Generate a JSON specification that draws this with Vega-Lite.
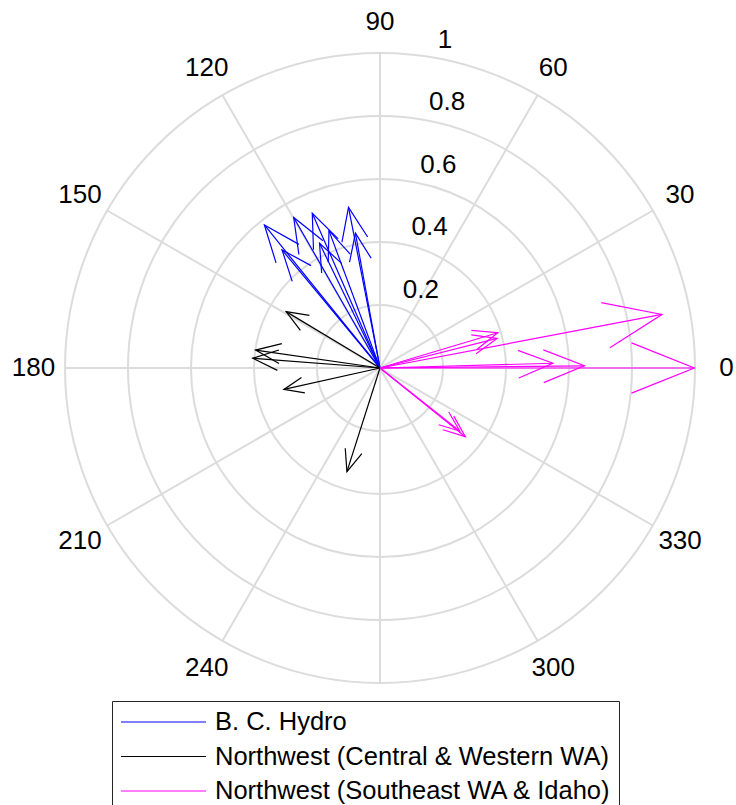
{
  "$schema": "https://vega.github.io/schema/vega-lite/v6.json",
  "width": 712,
  "height": 712,
  "autosize": {"type": "none"},
  "padding": {"left": 24, "top": 12, "right": 0, "bottom": 81},
  "background": "white",
  "config": {"view": {"stroke": null}, "font": "Liberation Sans"},
  "datasets": {
    "rings": [{"r": 0.2}, {"r": 0.4}, {"r": 0.6}, {"r": 0.8}, {"r": 1.0}],
    "spokes": [{"a": 0}, {"a": 30}, {"a": 60}, {"a": 90}, {"a": 120}, {"a": 150}],
    "anglabels": [
      {"a": 0, "lab": "0"}, {"a": 30, "lab": "30"}, {"a": 60, "lab": "60"}, {"a": 90, "lab": "90"},
      {"a": 120, "lab": "120"}, {"a": 150, "lab": "150"}, {"a": 180, "lab": "180"}, {"a": 210, "lab": "210"},
      {"a": 240, "lab": "240"}, {"a": 270, "lab": "270"}, {"a": 300, "lab": "300"}, {"a": 330, "lab": "330"}
    ],
    "rlabels": [
      {"r": 0.2, "lab": "0.2"}, {"r": 0.4, "lab": "0.4"}, {"r": 0.6, "lab": "0.6"}, {"r": 0.8, "lab": "0.8"}, {"r": 1.0, "lab": "1"}
    ],
    "arrows": [
      {"series": "B. C. Hydro", "u": -0.367, "v": 0.454, "mag": 0.584, "dir": 128.9},
      {"series": "B. C. Hydro", "u": -0.274, "v": 0.478, "mag": 0.551, "dir": 119.8},
      {"series": "B. C. Hydro", "u": -0.215, "v": 0.491, "mag": 0.536, "dir": 113.7},
      {"series": "B. C. Hydro", "u": -0.162, "v": 0.436, "mag": 0.465, "dir": 110.4},
      {"series": "B. C. Hydro", "u": -0.192, "v": 0.396, "mag": 0.440, "dir": 115.9},
      {"series": "B. C. Hydro", "u": -0.100, "v": 0.510, "mag": 0.520, "dir": 101.1},
      {"series": "B. C. Hydro", "u": -0.078, "v": 0.428, "mag": 0.435, "dir": 100.3},
      {"series": "B. C. Hydro", "u": -0.311, "v": 0.375, "mag": 0.487, "dir": 129.7},
      {"series": "Northwest (Central & Western WA)", "u": -0.298, "v": 0.179, "mag": 0.347, "dir": 149.0},
      {"series": "Northwest (Central & Western WA)", "u": -0.395, "v": 0.057, "mag": 0.399, "dir": 171.8},
      {"series": "Northwest (Central & Western WA)", "u": -0.404, "v": 0.031, "mag": 0.405, "dir": 175.6},
      {"series": "Northwest (Central & Western WA)", "u": -0.305, "v": -0.068, "mag": 0.313, "dir": 192.5},
      {"series": "Northwest (Central & Western WA)", "u": -0.105, "v": -0.329, "mag": 0.346, "dir": 252.3},
      {"series": "Northwest (Southeast WA & Idaho)", "u": 0.998, "v": 0.0, "mag": 0.998, "dir": 0.0},
      {"series": "Northwest (Southeast WA & Idaho)", "u": 0.895, "v": 0.170, "mag": 0.911, "dir": 10.8},
      {"series": "Northwest (Southeast WA & Idaho)", "u": 0.649, "v": 0.007, "mag": 0.649, "dir": 0.6},
      {"series": "Northwest (Southeast WA & Idaho)", "u": 0.549, "v": 0.015, "mag": 0.549, "dir": 1.6},
      {"series": "Northwest (Southeast WA & Idaho)", "u": 0.374, "v": 0.112, "mag": 0.390, "dir": 16.7},
      {"series": "Northwest (Southeast WA & Idaho)", "u": 0.372, "v": 0.094, "mag": 0.384, "dir": 14.2},
      {"series": "Northwest (Southeast WA & Idaho)", "u": 0.271, "v": -0.218, "mag": 0.348, "dir": 321.2},
      {"series": "Northwest (Southeast WA & Idaho)", "u": 0.253, "v": -0.200, "mag": 0.323, "dir": 321.7}
    ]
  },
  "layer": [
    {
      "data": {"name": "rings"},
      "mark": {"type": "point", "shape": "circle", "filled": false, "stroke": "#dcdcdc", "strokeWidth": 2, "opacity": 1},
      "encoding": {
        "x": {"datum": 0, "type": "quantitative", "scale": {"domain": [-1.1302, 1.1302], "nice": false, "zero": false}, "axis": null},
        "y": {"datum": 0, "type": "quantitative", "scale": {"domain": [-1.1302, 1.1302], "nice": false, "zero": false}, "axis": null},
        "size": {"field": "r", "type": "quantitative", "scale": {"type": "pow", "exponent": 2, "domain": [0, 1], "range": [0, 396900]}, "legend": null}
      }
    },
    {
      "data": {"name": "spokes"},
      "mark": {"type": "point", "shape": "stroke", "filled": false, "stroke": "#dcdcdc", "strokeWidth": 2, "opacity": 1, "size": 396900},
      "encoding": {
        "x": {"datum": 0, "type": "quantitative"},
        "y": {"datum": 0, "type": "quantitative"},
        "angle": {"field": "a", "type": "quantitative", "scale": {"domain": [0, 360], "range": [360, 0]}}
      }
    },
    {
      "data": {"name": "anglabels"},
      "mark": {"type": "text", "fontSize": 26, "font": "Liberation Sans", "color": "#000000", "align": "center", "baseline": "middle"},
      "encoding": {
        "theta": {"field": "a", "type": "quantitative", "scale": {"domain": [0, 360], "range": [1.5707963, -4.712389]}},
        "radius": {"datum": 1.1, "type": "quantitative", "scale": {"type": "linear", "domain": [0, 1], "range": [0, 315], "zero": true}},
        "text": {"field": "lab"}
      }
    },
    {
      "data": {"name": "rlabels"},
      "mark": {"type": "text", "fontSize": 26, "font": "Liberation Sans", "color": "#000000", "align": "left", "baseline": "bottom", "dx": 14, "dy": -3},
      "encoding": {
        "theta": {"datum": 82, "type": "quantitative"},
        "radius": {"field": "r", "type": "quantitative"},
        "text": {"field": "lab"}
      }
    },
    {
      "data": {"name": "arrows"},
      "mark": {"type": "rule", "strokeWidth": 1.2},
      "encoding": {
        "x": {"field": "u", "type": "quantitative"},
        "y": {"field": "v", "type": "quantitative"},
        "x2": {"datum": 0},
        "y2": {"datum": 0},
        "color": {
          "field": "series", "type": "nominal",
          "scale": {"domain": ["B. C. Hydro", "Northwest (Central & Western WA)", "Northwest (Southeast WA & Idaho)"], "range": ["#0000ff", "#000000", "#ff00ff"]},
          "legend": {
            "orient": "none", "legendX": 88, "legendY": 689, "title": null,
            "symbolType": "stroke", "symbolSize": 7225, "symbolStrokeWidth": 1.2,
            "labelFontSize": 25.5, "labelFont": "Liberation Sans", "labelColor": "#000000",
            "labelOffset": 8, "labelLimit": 0, "padding": 8, "clipHeight": 26, "rowPadding": 7.5,
            "strokeColor": "#262626", "fillColor": "#ffffff", "symbolOffset": 0
          }
        }
      }
    },
    {
      "data": {"name": "arrows"},
      "mark": {"type": "point", "shape": "M -1 -0.4 L 0 0 L -1 0.4", "filled": false, "strokeWidth": 1.2, "opacity": 1},
      "encoding": {
        "x": {"field": "u", "type": "quantitative"},
        "y": {"field": "v", "type": "quantitative"},
        "angle": {"field": "dir", "type": "quantitative"},
        "size": {"field": "mag", "type": "quantitative", "scale": {"type": "pow", "exponent": 2, "domain": [0, 1], "range": [0, 15876]}, "legend": null},
        "stroke": {
          "field": "series", "type": "nominal",
          "scale": {"domain": ["B. C. Hydro", "Northwest (Central & Western WA)", "Northwest (Southeast WA & Idaho)"], "range": ["#0000ff", "#000000", "#ff00ff"]},
          "legend": null
        }
      }
    }
  ],
  "resolve": {"scale": {"size": "independent"}}
}
